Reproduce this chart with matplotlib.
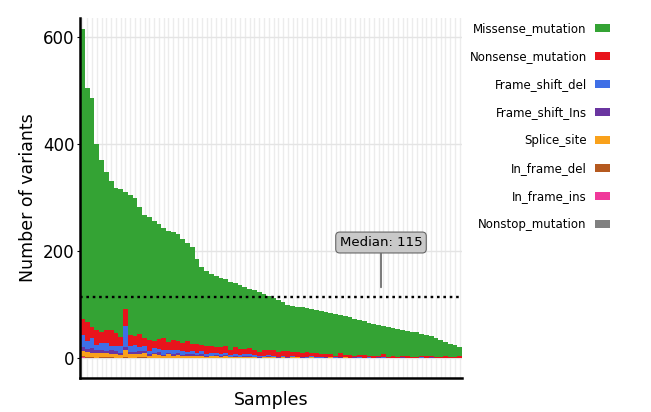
import numpy as np
import matplotlib
matplotlib.use("Agg")
import matplotlib.pyplot as plt
from matplotlib.patches import Patch

# total variants per sample (sorted)
total_variants = [615, 505, 485, 400, 370, 347, 330, 318, 316, 310,
                  305, 300, 282, 268, 264, 256, 250, 244, 238, 235,
                  232, 222, 216, 207, 185, 170, 163, 158, 153, 150,
                  147, 143, 140, 136, 133, 130, 128, 124, 120, 117,
                  113, 108, 104, 100, 98, 96, 95, 94, 92, 90,
                  88, 86, 84, 82, 80, 78, 76, 74, 72, 69,
                  66, 64, 62, 60, 58, 56, 54, 52, 50, 49,
                  48, 46, 44, 41, 37, 34, 30, 27, 24, 21]

nonsense = [30, 35, 22, 28, 20, 25, 30, 24, 18, 30,
            22, 18, 25, 15, 20, 14, 18, 22, 16, 18,
            17, 14, 20, 13, 16, 12, 15, 13, 11, 14,
            12, 10, 13, 11, 9, 12, 10, 8, 11, 9,
            10, 8, 9, 11, 6, 8, 7, 9, 6, 7,
            6, 4, 5, 3, 6, 4, 5, 3, 4, 5,
            3, 4, 2, 5, 3, 4, 2, 3, 4, 2,
            3, 2, 4, 2, 3, 2, 3, 2, 2, 3]
frame_shift_del = [22, 15, 18, 10, 12, 14, 8, 10, 12, 40,
                   10, 12, 8, 10, 6, 9, 7, 10, 5, 8,
                   6, 8, 5, 7, 4, 6, 3, 5, 4, 3,
                   4, 3, 2, 3, 4, 2, 3, 2, 1, 2,
                   2, 1, 2, 1, 2, 1, 1, 2, 1, 1,
                   1, 1, 0, 1, 1, 0, 1, 0, 1, 0,
                   1, 0, 0, 1, 0, 0, 1, 0, 0, 0,
                   0, 1, 0, 0, 0, 1, 0, 0, 0, 0]
frame_shift_ins = [8, 6, 10, 5, 6, 4, 7, 5, 4, 6,
                   5, 4, 6, 3, 4, 3, 5, 2, 3, 4,
                   3, 2, 3, 2, 2, 3, 2, 1, 2, 2,
                   2, 1, 2, 1, 1, 2, 1, 1, 1, 1,
                   1, 1, 0, 1, 1, 0, 1, 0, 1, 0,
                   0, 1, 0, 0, 1, 0, 0, 1, 0, 0,
                   0, 0, 1, 0, 0, 0, 0, 1, 0, 0,
                   0, 0, 0, 1, 0, 0, 0, 0, 1, 0]
splice_site = [8, 10, 6, 9, 7, 8, 6, 7, 5, 12,
               6, 7, 5, 8, 4, 6, 5, 4, 6, 3,
               5, 4, 3, 5, 3, 4, 2, 3, 4, 2,
               3, 2, 3, 2, 2, 3, 2, 1, 2, 2,
               2, 1, 2, 1, 1, 2, 1, 1, 2, 1,
               1, 1, 2, 1, 1, 1, 0, 1, 1, 1,
               1, 0, 1, 1, 0, 1, 0, 1, 0, 1,
               0, 1, 0, 1, 0, 0, 1, 0, 0, 1]
in_frame_del = [3, 2, 2, 1, 2, 1, 2, 1, 1, 2,
                1, 1, 2, 1, 0, 1, 1, 0, 1, 1,
                1, 0, 1, 0, 1, 0, 0, 1, 0, 0,
                1, 0, 0, 0, 1, 0, 0, 0, 0, 1,
                0, 0, 0, 0, 1, 0, 0, 0, 0, 0,
                0, 0, 0, 0, 0, 1, 0, 0, 0, 0,
                0, 0, 0, 0, 0, 0, 0, 0, 0, 0,
                0, 0, 0, 0, 0, 0, 0, 0, 0, 0]
in_frame_ins = [1, 0, 1, 0, 0, 1, 0, 0, 0, 1,
                0, 0, 0, 1, 0, 0, 0, 0, 0, 0,
                0, 0, 0, 0, 0, 0, 0, 0, 0, 0,
                0, 0, 0, 0, 0, 0, 0, 0, 0, 0,
                0, 0, 0, 0, 0, 0, 0, 0, 0, 0,
                0, 0, 0, 0, 0, 0, 0, 0, 0, 0,
                0, 0, 0, 0, 0, 0, 0, 0, 0, 0,
                0, 0, 0, 0, 0, 0, 0, 0, 0, 0]
nonstop = [1, 0, 0, 0, 1, 0, 0, 0, 0, 0,
           0, 0, 0, 0, 0, 0, 0, 0, 0, 0,
           0, 0, 0, 0, 0, 0, 0, 0, 0, 0,
           0, 0, 0, 0, 0, 0, 0, 0, 0, 0,
           0, 0, 0, 0, 0, 0, 0, 0, 0, 0,
           0, 0, 0, 0, 0, 0, 0, 0, 0, 0,
           0, 0, 0, 0, 0, 0, 0, 0, 0, 0,
           0, 0, 0, 0, 0, 0, 0, 0, 0, 0]

median_value = 115

# stacking order bottom -> top
layers = [
    ("Nonstop_mutation", nonstop, "#808080"),
    ("In_frame_ins", in_frame_ins, "#f0399a"),
    ("In_frame_del", in_frame_del, "#b5591f"),
    ("Splice_site", splice_site, "#f9a11b"),
    ("Frame_shift_Ins", frame_shift_ins, "#6a35a0"),
    ("Frame_shift_del", frame_shift_del, "#3f6fe6"),
    ("Nonsense_mutation", nonsense, "#e8141c"),
]
others = np.sum([np.array(v) for _, v, _ in layers], axis=0)
missense = np.array(total_variants) - others
layers.append(("Missense_mutation", missense, "#34a334"))

n = len(total_variants)
x = np.arange(n)

fig = plt.figure(figsize=(6.51, 4.12), dpi=100)
ax = fig.add_axes([0.123, 0.0825, 0.587, 0.8735])

bottom = np.zeros(n)
for name, vals, col in layers:
    vals = np.array(vals, dtype=float)
    ax.bar(x, vals, bottom=bottom, width=1.0, color=col, linewidth=0, zorder=2)
    bottom += vals

ax.set_xlim(-0.5, n - 0.5)
ax.set_ylim(-37, 635)

# grid
ax.set_xticks(x)
ax.set_xticklabels([])
ax.tick_params(axis="x", length=0)
ax.set_yticks([0, 200, 400, 600])
ax.tick_params(axis="y", labelsize=12, length=2, width=0.8, pad=2)
ax.grid(axis="x", color="#ececec", lw=1.0, zorder=0)
ax.grid(axis="y", color="#e4e4e4", lw=1.0, zorder=0)
ax.set_axisbelow(True)

for s in ["top", "right"]:
    ax.spines[s].set_visible(False)
ax.spines["left"].set_linewidth(1.8)
ax.spines["bottom"].set_linewidth(1.8)

ax.set_ylabel("Number of variants", fontsize=12.5, labelpad=4)
ax.set_xlabel("Samples", fontsize=12.5, labelpad=6)

# median line and label
ax.axhline(median_value, color="black", lw=1.7, ls=(0, (1.1, 1.6)), zorder=3)
ax.annotate(f"Median: {median_value}", xy=(62.5, 132), xytext=(62.5, 216),
            ha="center", va="center", fontsize=9.5,
            bbox=dict(boxstyle="round,pad=0.3", fc="#c9c9c9", ec="#666666", lw=0.8),
            arrowprops=dict(arrowstyle="-", color="#444444", lw=1.0,
                            shrinkA=0, shrinkB=0), zorder=4)

# legend on the right (labels right aligned, swatch after text)
handles = [Patch(facecolor=col, edgecolor="none", label=name)
           for name, _, col in reversed(layers)]
leg = fig.legend(handles=handles, loc="upper left", bbox_to_anchor=(0.705, 0.972),
                 frameon=False, markerfirst=False, fontsize=8.5,
                 handlelength=1.3, handleheight=0.6, handletextpad=0.7,
                 labelspacing=1.27)

fig.savefig("out.png", dpi=100)
